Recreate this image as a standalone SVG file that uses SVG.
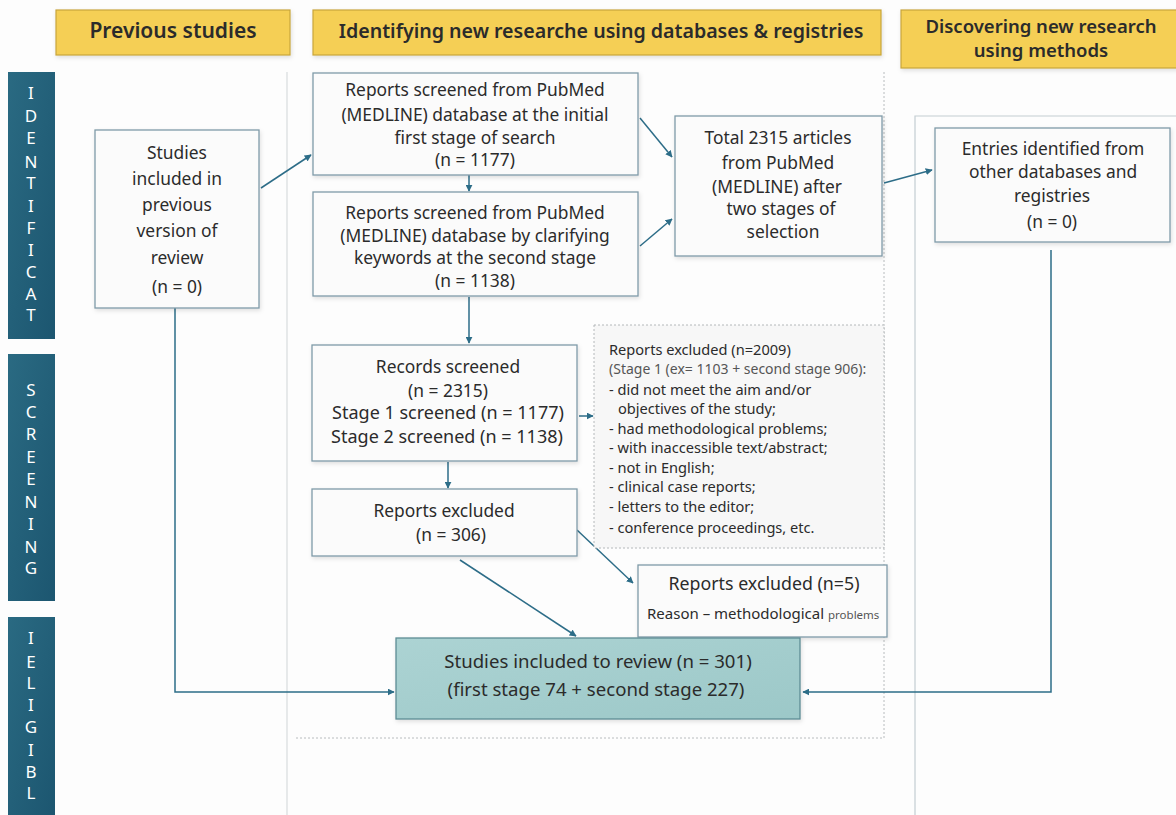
<svg xmlns="http://www.w3.org/2000/svg" width="1176" height="815" viewBox="0 0 1176 815">
<defs>
<style>
.t{font-family:"Noto Sans","Open Sans","Liberation Sans",sans-serif;fill:#2b2b2b;font-size:17.4px;text-anchor:middle}
.h{font-family:"Noto Sans","Open Sans","Liberation Sans",sans-serif;fill:#2b2b2b;font-size:19.6px;font-weight:600;text-anchor:middle}
.s{font-family:"Noto Sans","Open Sans","Liberation Sans",sans-serif;fill:#2b2b2b;font-size:14.6px}
.v{font-family:"Noto Sans","Open Sans","Liberation Sans",sans-serif;fill:#ffffff;font-size:17px;text-anchor:middle}
.box{fill:#fbfbfb;stroke:#7f9aa8;stroke-width:1.3}
.hdr{fill:#f5cf55;stroke:#c8a53a;stroke-width:1.2}
.band{fill:url(#bg)}
.c{fill:none;stroke:#2d6d88;stroke-width:1.5;marker-end:url(#ah)}
</style>
<linearGradient id="bg" x1="0" y1="0" x2="1" y2="1">
<stop offset="0" stop-color="#2a6a82"/><stop offset="1" stop-color="#1c5670"/>
</linearGradient>
<linearGradient id="tg" x1="0" y1="0" x2="1" y2="1">
<stop offset="0" stop-color="#acd3d3"/><stop offset="1" stop-color="#9cc8c8"/>
</linearGradient>
<marker id="ah" viewBox="0 0 10 10" refX="9" refY="5" markerWidth="7" markerHeight="7" orient="auto" markerUnits="userSpaceOnUse">
<path d="M0,0 L10,5 L0,10 z" fill="#2d6d88"/>
</marker>
<filter id="sh" x="-10%" y="-10%" width="120%" height="130%">
<feDropShadow dx="1" dy="2" stdDeviation="2" flood-color="#000" flood-opacity="0.12"/>
</filter>
</defs>
<rect width="1176" height="815" fill="#fdfdfd"/>

<g id="guides" fill="none">
<line x1="287" y1="72" x2="287" y2="815" stroke="#d8dcde" stroke-width="1.2"/>
<line x1="884" y1="72" x2="884" y2="738" stroke="#b8bcbe" stroke-width="1" stroke-dasharray="2,2"/>
<line x1="296" y1="738" x2="884" y2="738" stroke="#b8bcbe" stroke-width="1" stroke-dasharray="2,2"/>
<polyline points="915,815 915,116 1176,116" stroke="#c4cdd2" stroke-width="1.2"/>
</g>

<g id="header-previous"><rect class="hdr" x="56" y="10" width="234" height="45" filter="url(#sh)"/><text class="h" x="173" y="38" style="font-size:21px">Previous studies</text></g>
<g id="header-identifying"><rect class="hdr" x="313" y="10" width="568" height="45" filter="url(#sh)"/><text class="h" x="601" y="38">Identifying new researche using databases &amp; registries</text></g>
<g id="header-discovering"><rect class="hdr" x="901" y="10" width="280" height="58" filter="url(#sh)"/><text class="h" x="1041" y="33" style="font-size:18.5px">Discovering new research</text><text class="h" x="1041" y="57" style="font-size:18.5px">using methods</text></g>

<g id="band-identification"><rect class="band" x="8" y="72" width="47" height="267"/>
<text class="v" x="31" y="99">I</text><text class="v" x="31" y="122">D</text><text class="v" x="31" y="144">E</text><text class="v" x="31" y="168">N</text><text class="v" x="31" y="189">T</text><text class="v" x="31" y="212">I</text><text class="v" x="31" y="234">F</text><text class="v" x="31" y="256">I</text><text class="v" x="31" y="278">C</text><text class="v" x="31" y="300">A</text><text class="v" x="31" y="321">T</text></g>
<g id="band-screening"><rect class="band" x="8" y="354" width="47" height="247"/>
<text class="v" x="31" y="396">S</text><text class="v" x="31" y="418">C</text><text class="v" x="31" y="440">R</text><text class="v" x="31" y="463">E</text><text class="v" x="31" y="485">E</text><text class="v" x="31" y="508">N</text><text class="v" x="31" y="530">I</text><text class="v" x="31" y="553">N</text><text class="v" x="31" y="574">G</text></g>
<g id="band-eligibility"><rect class="band" x="8" y="617" width="47" height="200"/>
<text class="v" x="31" y="644">I</text><text class="v" x="31" y="668">E</text><text class="v" x="31" y="689">L</text><text class="v" x="31" y="711">I</text><text class="v" x="31" y="733">G</text><text class="v" x="31" y="756">I</text><text class="v" x="31" y="778">B</text><text class="v" x="31" y="799">L</text></g>

<g id="connectors">
<line class="c" x1="261" y1="188" x2="311" y2="155"/>
<line class="c" x1="469" y1="175" x2="469" y2="191"/>
<line class="c" x1="640" y1="118" x2="672" y2="157"/>
<line class="c" x1="640" y1="246" x2="672" y2="219"/>
<line class="c" x1="884" y1="183" x2="932" y2="170"/>
<line class="c" x1="469" y1="297" x2="469" y2="343"/>
<line class="c" x1="579" y1="416" x2="593" y2="416"/>
<line class="c" x1="448" y1="462" x2="448" y2="488"/>
<line class="c" x1="577" y1="530" x2="633" y2="583"/>
<line class="c" x1="460" y1="560" x2="576" y2="636"/>
<polyline class="c" points="175,308 175,692 394,692"/>
<polyline class="c" points="1051,250 1051,692 803,692"/>
</g>

<g id="previous-version"><rect class="box" x="95" y="130" width="164" height="178" filter="url(#sh)"/>
<text class="t" x="177" y="159">Studies</text><text class="t" x="177" y="185">included in</text><text class="t" x="177" y="211">previous</text><text class="t" x="177" y="237">version of</text><text class="t" x="177" y="264">review</text><text class="t" x="177" y="293">(n = 0)</text></g>

<g id="pubmed-stage1"><rect class="box" x="313" y="73" width="325" height="102" filter="url(#sh)"/>
<text class="t" x="475" y="96">Reports screened from PubMed</text><text class="t" x="475" y="121">(MEDLINE) database at the initial</text><text class="t" x="475" y="144">first stage of search</text><text class="t" x="475" y="166">(n = 1177)</text></g>

<g id="pubmed-stage2"><rect class="box" x="313" y="192" width="325" height="104" filter="url(#sh)"/>
<text class="t" x="475" y="219">Reports screened from PubMed</text><text class="t" x="475" y="242">(MEDLINE) database by clarifying</text><text class="t" x="475" y="264">keywords at the second stage</text><text class="t" x="475" y="287">(n = 1138)</text></g>

<g id="total"><rect class="box" x="675" y="116" width="207" height="140" filter="url(#sh)"/>
<text class="t" x="778" y="144">Total 2315 articles</text><text class="t" x="778" y="169">from PubMed</text><text class="t" x="777" y="193">(MEDLINE) after</text><text class="t" x="781" y="215">two stages of</text><text class="t" x="783" y="238">selection</text></g>

<g id="entries"><rect class="box" x="935" y="128" width="235" height="114" filter="url(#sh)"/>
<text class="t" x="1053" y="155">Entries identified from</text><text class="t" x="1053" y="178">other databases and</text><text class="t" x="1052" y="202">registries</text><text class="t" x="1052" y="228">(n = 0)</text></g>

<g id="records-screened"><rect class="box" x="312" y="345" width="265" height="116" filter="url(#sh)"/>
<text class="t" x="448" y="373">Records screened</text><text class="t" x="448" y="397">(n = 2315)</text><text class="t" x="448" y="419" style="font-size:18px">Stage 1 screened  (n = 1177)</text><text class="t" x="447" y="443" style="font-size:18px">Stage 2 screened (n = 1138)</text></g>

<g id="excluded-2009"><rect x="594" y="325" width="290" height="223" fill="#f7f7f7" stroke="#b4b8ba" stroke-width="1" stroke-dasharray="2,2"/>
<text class="s" x="609" y="355">Reports excluded  (n=2009)</text>
<text class="s" x="609" y="374" style="font-size:14px;fill:#555">(Stage 1 (ex= 1103 + second stage 906):</text>
<text class="s" x="609" y="395">- did not meet the aim and/or</text>
<text class="s" x="618" y="414">objectives of the study;</text>
<text class="s" x="609" y="434">- had methodological problems;</text>
<text class="s" x="609" y="453">- with inaccessible text/abstract;</text>
<text class="s" x="609" y="473">- not in English;</text>
<text class="s" x="609" y="492">- clinical case reports;</text>
<text class="s" x="609" y="512">- letters to the editor;</text>
<text class="s" x="609" y="533">- conference proceedings, etc.</text></g>

<g id="excluded-306"><rect class="box" x="312" y="489" width="265" height="67" filter="url(#sh)"/>
<text class="t" x="444" y="517">Reports excluded</text><text class="t" x="451" y="541">(n = 306)</text></g>

<g id="excluded-5"><rect class="box" x="638" y="565" width="249" height="72" filter="url(#sh)"/>
<text class="t" x="764" y="590" style="font-size:17.8px">Reports excluded (n=5)</text>
<text class="s" x="647" y="619" style="font-size:15px">Reason – methodological <tspan style="font-size:11.5px;fill:#555">problems</tspan></text></g>

<g id="included"><rect x="396" y="638" width="404" height="81" fill="url(#tg)" stroke="#5d8d94" stroke-width="1.3" filter="url(#sh)"/>
<text class="t" x="598" y="668" style="font-size:18.6px">Studies included to review (n = 301)</text><text class="t" x="596" y="696" style="font-size:18.6px">(first stage 74 + second stage 227)</text></g>
</svg>
